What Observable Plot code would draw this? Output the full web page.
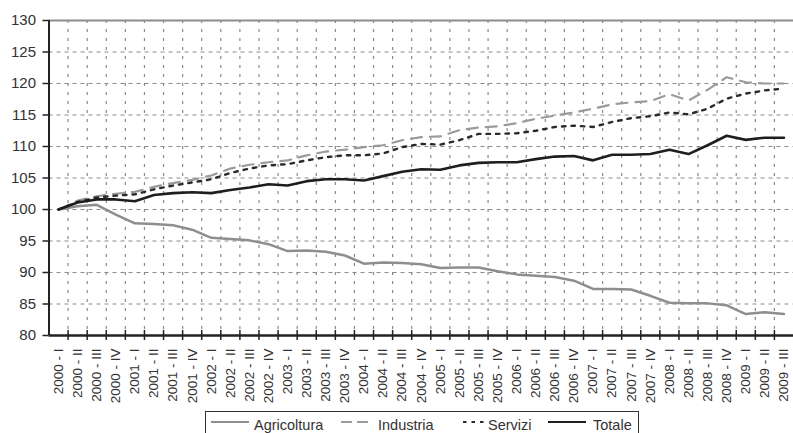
<!DOCTYPE html>
<html><head><meta charset="utf-8">
<script src="https://cdn.jsdelivr.net/npm/d3@7"></script>
<script src="https://cdn.jsdelivr.net/npm/@observablehq/plot@0.6"></script>
<style>
body{margin:0;background:#fff;}
#wrap{position:relative;width:793px;height:433px;overflow:hidden;background:#fff;}
#legend{position:absolute;left:205px;top:411px;width:432px;height:30px;border:1.5px solid #333;border-bottom:none;font-family:"Liberation Sans",Arial,sans-serif;font-size:14.5px;color:#333;}
.sw{position:absolute;top:7px;}
.lt{position:absolute;top:5px;line-height:16px;white-space:nowrap;}
</style></head><body><div id="wrap"><div id="chart"></div><div id="legend"></div></div>
<script>
const quarters = ["2000 - I","2000 - II","2000 - III","2000 - IV","2001 - I","2001 - II","2001 - III","2001 - IV","2002 - I","2002 - II","2002 - III","2002 - IV","2003 - I","2003 - II","2003 - III","2003 - IV","2004 - I","2004 - II","2004 - III","2004 - IV","2005 - I","2005 - II","2005 - III","2005 - IV","2006 - I","2006 - II","2006 - III","2006 - IV","2007 - I","2007 - II","2007 - III","2007 - IV","2008 - I","2008 - II","2008 - III","2008 - IV","2009 - I","2009 - II","2009 - III"];
const agricoltura = [100,100.5,100.75,99.2,97.8,97.7,97.5,96.8,95.5,95.3,95.1,94.5,93.4,93.5,93.3,92.7,91.4,91.6,91.5,91.3,90.7,90.8,90.8,90.2,89.7,89.5,89.3,88.7,87.4,87.4,87.3,86.3,85.2,85.1,85.1,84.8,83.4,83.7,83.4];
const industria = [100,101.4,102.1,102.5,102.8,103.6,104.2,104.7,105.4,106.5,107.1,107.5,107.8,108.6,109.2,109.5,109.9,110.2,111,111.5,111.6,112.6,113,113.2,113.7,114.4,114.9,115.4,116,116.7,117,117.2,118.3,117.3,119,121,120.2,120,120];
const servizi = [100,101.2,101.9,102.2,102.4,103.2,103.8,104.3,104.8,105.8,106.5,107,107.2,107.8,108.3,108.6,108.6,108.9,109.9,110.4,110.3,111,112,112,112.1,112.5,113.1,113.3,113.1,113.9,114.5,114.8,115.4,115.1,116,117.6,118.4,118.9,119.2];
const totale = [100,101.1,101.6,101.6,101.3,102.3,102.6,102.75,102.6,103.1,103.5,104,103.8,104.5,104.8,104.8,104.6,105.3,106,106.4,106.3,107,107.4,107.5,107.5,108,108.4,108.5,107.8,108.7,108.7,108.8,109.5,108.8,110.2,111.7,111.05,111.4,111.4];
const yTicks = [80,85,90,95,100,105,110,115,120,125,130];
const seriesNames = ["Agricoltura","Industria","Servizi","Totale"];

const seriesData = [agricoltura, industria, servizi, totale];
const seriesStyle = [
  {stroke:"#8e8e8e", strokeWidth:2.5, dash:null},
  {stroke:"#9a9a9a", strokeWidth:2.2, dash:"11,8"},
  {stroke:"#2a2a2a", strokeWidth:2.4, dash:"3.5,6"},
  {stroke:"#1e1e1e", strokeWidth:2.6, dash:null}
];
const n = quarters.length;
const idx = d3.range(n);
const edges = d3.range(n - 1).map(i => i + 0.5);

const chart = Plot.plot({
  width: 793, height: 410,
  marginLeft: 48.5, marginRight: 0, marginTop: 20, marginBottom: 75,
  style: {fontFamily: "'Liberation Sans', Arial, sans-serif", fontSize: "13px", color: "#333", background: "#fff", overflow: "visible"},
  x: {type: "linear", domain: [-0.5, n - 0.5], axis: null},
  y: {domain: [80, 130], axis: null},
  marks: [
    Plot.ruleY(yTicks.slice(1, -1), {stroke: "#8a8a8a", strokeDasharray: "4,4", strokeWidth: 1.1}),
    Plot.ruleX(edges, {stroke: "#8a8a8a", strokeDasharray: "3,6", strokeWidth: 1.2}),
    Plot.ruleY([130], {stroke: "#8c8c8c", strokeWidth: 2}),
    ...seriesData.map((arr, s) => Plot.line(arr, {
      x: (d, i) => i, y: d => d,
      stroke: seriesStyle[s].stroke, strokeWidth: seriesStyle[s].strokeWidth,
      strokeDasharray: seriesStyle[s].dash, strokeLinejoin: "round"
    })),
    Plot.ruleX([-0.5], {stroke: "#222", strokeWidth: 2}),
    Plot.ruleY([80], {stroke: "#222", strokeWidth: 2.5}),
    Plot.ruleX(edges, {y1: 80, y2: 80, insetTop: -5, insetBottom: -5, stroke: "#222", strokeWidth: 1.5}),
    Plot.axisY({ticks: yTicks, tickSize: 6, tickPadding: 7, stroke: "#222", strokeWidth: 1.5, fill: "#333", fontSize: 15}),
    Plot.axisX({ticks: idx, tickSize: 0, tickRotate: -90, tickPadding: 13, tickFormat: i => quarters[i], fill: "#333", fontSize: 13.5})
  ]
});
document.getElementById("chart").appendChild(chart);

// legend
const legend = document.getElementById("legend");
const swPos = [[5, 38, 48], [135, 28, 172], [257, 21, 282], [342, 38, 387]];
seriesNames.forEach((name, s) => {
  const [sx, sw, tx] = swPos[s];
  const st = seriesStyle[s];
  const svg = d3.create("svg").attr("class", "sw").attr("width", sw).attr("height", 6)
    .style("left", sx + "px");
  svg.append("line").attr("x1", 0).attr("x2", sw).attr("y1", 3).attr("y2", 3)
    .attr("stroke", st.stroke).attr("stroke-width", 2.2)
    .attr("stroke-dasharray", st.dash ? (s === 1 ? "11,5" : "3.5,5") : null);
  legend.appendChild(svg.node());
  const t = document.createElement("span");
  t.className = "lt"; t.style.left = tx + "px"; t.textContent = name;
  legend.appendChild(t);
});
</script>
</body></html>
